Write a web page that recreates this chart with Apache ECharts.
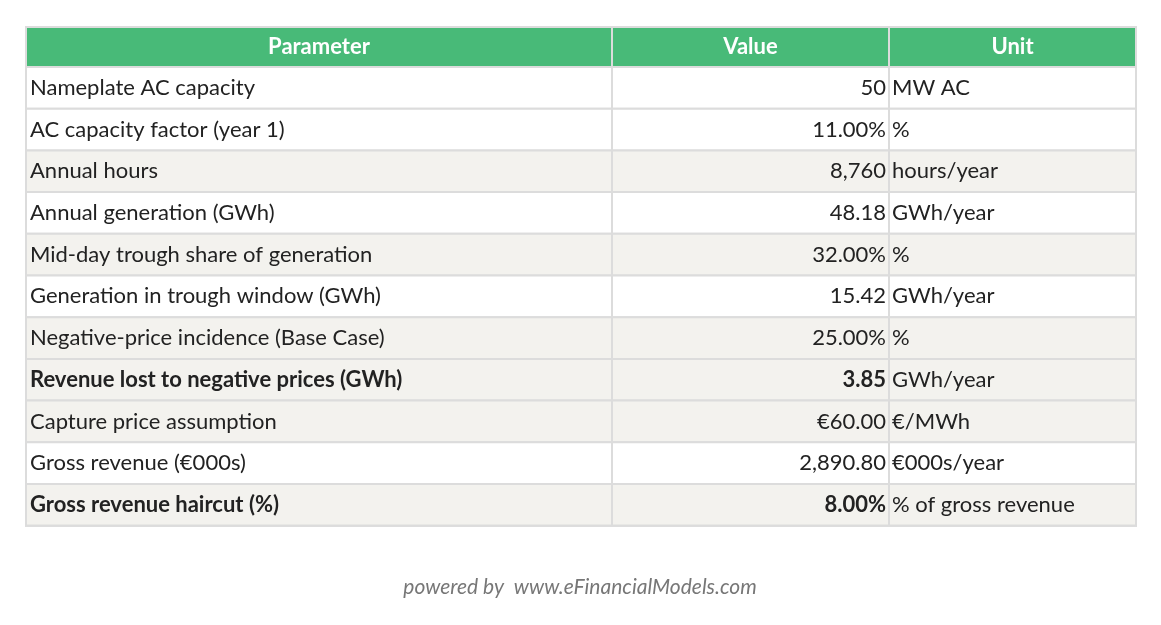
<!DOCTYPE html><html><head><meta charset="utf-8"><script src="https://cdn.jsdelivr.net/npm/echarts@6/dist/echarts.min.js"></script>
<style>html,body{margin:0;background:#fff}#c{width:1161px;height:625px}</style></head><body><div id="c"></div><script>
const headers=['Parameter','Value','Unit'];
const parameters=['Nameplate AC capacity','AC capacity factor (year 1)','Annual hours','Annual generation (GWh)','Mid-day trough share of generation','Generation in trough window (GWh)','Negative-price incidence (Base Case)','Revenue lost to negative prices (GWh)','Capture price assumption','Gross revenue (€000s)','Gross revenue haircut (%)'];
const values=['50','11.00%','8,760','48.18','32.00%','15.42','25.00%','3.85','€60.00','2,890.80','8.00%'];
const units=['MW AC','%','hours/year','GWh/year','%','GWh/year','%','GWh/year','€/MWh','€000s/year','% of gross revenue'];
const boldRows=[7,10];
const shadedRows=[2,4,6,7,8,10];
const footer='powered by  www.eFinancialModels.com';
(function(){
const colX=[26,612,889,1136], tY=27, hh=40, rh=41.7;
const g=[];
const F='Lato, "Open Sans", sans-serif';
g.push({type:'rect',shape:{x:colX[0],y:tY,width:colX[3]-colX[0],height:hh},style:{fill:'#48BA78'}});
headers.forEach((h,i)=>g.push({type:'text',x:(colX[i]+colX[i+1])/2,y:tY+hh/2,style:{text:h,fill:'#fff',font:'bold 22px '+F,align:'center',verticalAlign:'middle'}}));
parameters.forEach((p,r)=>{
  const y=tY+hh+r*rh, b=boldRows.includes(r)?'bold ':'';
  g.push({type:'rect',shape:{x:colX[0],y:y,width:colX[3]-colX[0],height:rh},style:{fill:shadedRows.includes(r)?'#F3F2EE':'#fff',stroke:'#DCDCDC',lineWidth:2}});
  g.push({type:'text',x:colX[0]+4,y:y+rh/2,style:{text:p,fill:'#222',font:b+'22px '+F,verticalAlign:'middle'}});
  g.push({type:'text',x:colX[2]-3,y:y+rh/2,style:{text:values[r],fill:'#222',font:b+'22px '+F,align:'right',verticalAlign:'middle'}});
  g.push({type:'text',x:colX[2]+3,y:y+rh/2,style:{text:units[r],fill:'#222',font:'22px '+F,verticalAlign:'middle'}});
});
const bottom=tY+hh+parameters.length*rh;
[1,2].forEach(i=>g.push({type:'line',shape:{x1:colX[i],y1:tY,x2:colX[i],y2:bottom},style:{stroke:'#DCDCDC',lineWidth:2}}));
g.push({type:'rect',shape:{x:colX[0],y:tY,width:colX[3]-colX[0],height:bottom-tY},style:{fill:'none',stroke:'#DCDCDC',lineWidth:2}});
g.push({type:'text',x:580,y:587,style:{text:footer,fill:'#777',font:'italic 21px '+F,align:'center',verticalAlign:'middle'}});
echarts.init(document.getElementById('c')).setOption({graphic:g});
})();
</script></body></html>
